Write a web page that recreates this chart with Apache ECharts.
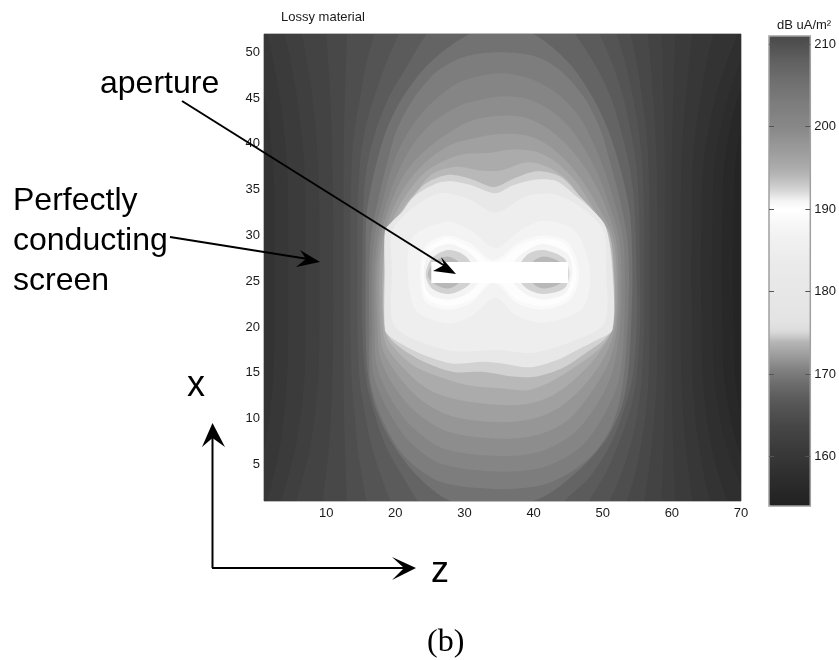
<!DOCTYPE html>
<html>
<head>
<meta charset="utf-8">
<style>html,body{margin:0;padding:0;background:#fff}#c{width:839px;height:660px;filter:blur(0.7px)}</style>
<script src="https://cdn.jsdelivr.net/npm/echarts@6/dist/echarts.min.js"></script>
</head>
<body>
<div id="c"></div>
<script>
// Colour bar: grey for every dB from 154 to 211
const colorbarMin = 154, colorbarMax = 211;
const colorbarGreys = ['#202020','#252525','#282828','#2c2c2c','#2f2f2f','#333333','#373737','#3b3b3b','#3f3f3f','#434343','#484848','#4e4e4e','#545454','#5b5b5b','#646464','#6e6e6e','#7a7a7a','#888888','#989898','#a8a8a8','#b8b8b8','#d8d8d8','#e2e2e2','#e4e4e4','#e5e5e5','#e6e6e6','#e7e7e7','#e8e8e8','#e9e9e9','#eaeaea','#ececec','#eeeeee','#f0f0f0','#f3f3f3','#f6f6f6','#fbfbfb','#ffffff','#f4f4f4','#dcdcdc','#c8c8c8','#b8b8b8','#acacac','#a4a4a4','#9c9c9c','#969696','#8e8e8e','#888888','#848484','#808080','#7c7c7c','#767676','#727272','#6c6c6c','#666666','#606060','#585858','#505050','#4a4a4a'];
const colorbarTicks = [160,170,180,190,200,210];
const zTicks = [10,20,30,40,50,60,70];
const xTicks = [5,10,15,20,25,30,35,40,45,50];

// Filled contours of the field, [z, x] outlines (lowest level first)
const c155 = [[-5,-5],[35,-5],[80,-5],[80,26],[80,60],[35,60],[-5,60],[-5,26]];
const c156 = [[-5,56],[-5,26],[-5,-3],[78,-3],[74,1],[70.9,7],[69.2,14],[68.9,20],[68.8,26],[68.9,32],[69.2,38],[70.9,45],[74,52],[78,56]];
const c157 = [[-5,56],[-5,26],[-5,-3],[76,-3],[73,1],[69.5,7],[67.6,14],[67.3,20],[67.2,26],[67.3,32],[67.6,38],[69.5,45],[73,52],[76,56]];
const c158 = [[-5,56],[-5,26],[-5,-3],[74,-3],[71,1],[67.9,7],[66.2,14],[65.9,20],[65.8,26],[65.9,32],[66.2,38],[68.1,45],[71.5,52],[74,56]];
const c159 = [[-5,56],[-5,26],[-5,-3],[70.5,-3],[68,1],[65.7,7],[64.5,14],[64.3,20],[64.2,26],[64.3,32],[64.6,38],[66.3,45],[69.5,52],[72,56]];
const c160 = [[-3,56],[-1,52],[1.1,45],[2.3,38],[2.5,32],[2.5,26],[2.5,20],[2.3,14],[1.1,7],[-1,1],[-3,-3],[67,-3],[65.5,1],[63.9,7],[63,14],[62.9,20],[62.8,26],[62.9,32],[63,38],[64.1,45],[66,52],[68,56]];
const c161 = [[0,56],[1.5,52],[3.3,45],[4.3,38],[4.5,32],[4.5,26],[4.5,20],[4.3,14],[3.3,7],[1.5,1],[0,-3],[64,-3],[63,1],[62,7],[61.4,14],[61.3,20],[61.3,26],[61.3,32],[61.4,38],[62,45],[63,52],[64,56]];
const c162 = [[2.5,56],[4,52],[5.8,45],[6.8,38],[7,32],[7,26],[7,20],[6.8,14],[5.6,7],[3.5,1],[2,-3],[60.7,-3],[60.5,1],[60.2,7],[60,14],[60,20],[60,26],[60,32],[60,38],[60.2,45],[60.5,52],[60.7,56]];
const c163 = [[5.5,56],[6.5,52],[8,45],[8.8,38],[9,32],[9,26],[9,20],[8.8,14],[7.7,7],[5.7,1],[4.5,-3],[58.3,-3],[58.5,1],[58.8,7],[59,14],[59,20],[59,26],[59,32],[59,38],[58.8,45],[58.5,52],[58.3,56]];
const c164 = [[9.5,56],[10,52],[10.6,45],[10.9,38],[11,32],[11,26],[11,20],[10.9,14],[10.4,7],[9.5,1],[9,-3],[55,-3],[56,1],[57.1,7],[57.8,14],[57.9,20],[57.9,26],[57.9,32],[57.8,38],[57.3,45],[56.5,52],[55.5,56]];
const c165 = [[13.2,56],[13,52],[12.7,45],[12.5,38],[12.5,32],[12.5,26],[12.5,20],[12.5,14],[12.7,7],[13,1],[13.2,-3],[51.5,-3],[53.5,1],[54.7,4],[55.5,7],[56.2,10.5],[56.6,14],[56.8,20],[56.8,26],[56.8,32],[56.6,38],[56.3,41.5],[55.7,45],[55,48.5],[54,52],[52.5,56]];
const c166 = [[19,56],[17,52],[15.7,48.5],[14.9,45],[14.1,41.5],[13.7,38],[13.5,32],[13.5,26],[13.5,20],[13.7,14],[14.1,10.5],[14.5,7],[15.1,4],[15.9,1],[18,-3],[48.5,-3],[51,1],[52.7,4],[54,7],[55,10.5],[55.6,14],[56,20],[56,26],[56,32],[55.7,38],[55.2,41.5],[54.4,45],[53.4,48.5],[52,52],[50,56]];
const c167 = [[23,56],[20.5,52],[18.5,48.5],[16.9,45],[15.6,41.5],[14.9,38],[14.5,32],[14.5,26],[14.5,20],[14.8,14.5],[15.5,11],[16.4,7.5],[17.8,4],[19.3,1],[22,-3],[45,-3],[48,1],[50.4,4],[52.4,7.5],[54,11],[54.9,14.5],[55.4,20],[55.4,26],[55.2,34],[54.8,38],[54,41.5],[53,45],[51.5,48.5],[49.5,52],[46.5,56]];
const c168 = [[28.5,56],[24.5,52],[21.7,48.5],[19,45],[17.2,41.5],[16,38],[15.4,34],[15.2,26],[15.2,20],[15.7,14.5],[16.8,11],[18.6,7],[21.2,3.5],[23.2,1],[27,-3],[41,-3],[44.5,1],[48,3.5],[51,7],[53.1,11],[54.3,14.5],[54.9,20],[54.9,26],[54.6,33],[54,37],[52.8,41],[51.2,45],[49,48.5],[46,52],[42,56]];
const c169 = [[15.7,26],[15.8,32],[16.4,35],[17.3,38],[18.7,41.5],[21,45],[24.5,48.5],[28.5,51],[32,52.4],[35.5,52.7],[39,52.3],[42,51],[45.5,48.5],[48.6,45],[50.8,41.5],[52.3,38],[53.3,35],[54,32],[54.3,26],[54.1,20],[53.6,14.5],[52.6,11],[50.3,7.5],[46,4],[41,1.3],[35.2,0.5],[28,1],[23.5,3.5],[19.8,7],[17.2,11],[16,15],[15.7,20]];
const c170 = [[16.2,26],[16.5,30],[17.6,34.2],[18.8,37.9],[20.2,41.5],[22.6,44.9],[26,47.9],[29.9,49.5],[35.2,50],[40.5,49.5],[43.9,48],[47.3,45.1],[49.7,41.5],[51.1,37.9],[52.4,34.2],[53.5,30],[53.8,26],[53.6,20],[52.8,13.3],[51.1,8.9],[47.8,5.5],[42,2.9],[35.2,2.3],[26.5,3.1],[21.4,5.8],[18.3,9.6],[16.4,14],[16.2,20]];
const c171 = [[16.6,26],[17,30],[18.3,34.2],[19.7,37.9],[21.7,41.1],[24.6,44],[28.9,46.6],[32.8,47.5],[35.7,47.7],[39.5,47.1],[43.4,45.5],[46.6,43],[48.7,40],[50.4,36.8],[51.6,33.9],[52.9,30],[53.2,26],[53.1,20],[52.4,14.4],[50.2,10.4],[46.8,6.9],[41.5,4.7],[35.2,4.2],[26.5,5.1],[21.9,7.6],[18.8,11.1],[16.8,14.9],[16.6,20]];
const c172 = [[17,26],[17.5,30],[19,34.2],[20.5,37.1],[22.6,40],[25.5,42.4],[29.4,44.2],[32.8,44.9],[35.7,45.2],[39.1,44.9],[42.4,43.7],[45.3,41.7],[47.8,38.9],[49.7,36],[50.9,33.5],[52.3,30],[52.7,26],[52.5,20],[51.4,15.1],[49.2,11.6],[45.8,8.4],[41,6.4],[35.2,5.9],[27,6.7],[22.4,9.1],[19.3,12.2],[17.3,15.8],[17,20]];
const c173 = [[17.3,26],[17.9,30],[19.5,33.9],[21.4,36.8],[24.1,39.1],[27.5,41.1],[31.3,42.6],[35.7,43.1],[39.1,42.8],[42.4,41.5],[45.3,39.5],[47.8,37],[50,33.9],[51.8,30],[52.3,26],[52.1,20],[50.9,16.2],[48.2,12.7],[44.9,9.8],[40.5,8.2],[35.2,7.8],[27.5,8.6],[23.1,10.6],[20,13.3],[17.8,16.6],[17.4,20]];
const c174 = [[17.7,26],[18.3,30],[20,33.5],[22.2,36.2],[25,38.4],[28,39.9],[31.8,40.7],[35.7,41.1],[39.1,40.9],[42,39.9],[44.9,38],[47.3,35.7],[49.2,33.3],[51.4,30],[52,26],[51.8,20],[50.2,16.7],[47.3,13.6],[43.9,11.3],[40,10],[35.2,9.6],[28.4,10.2],[24.1,11.8],[20.7,14.4],[18.3,17.3],[17.8,20]];
const c175 = [[18.1,26],[18.7,30],[20.5,33.1],[22.6,35.5],[25,37.3],[29.4,38.8],[33.3,39],[37.1,39.4],[40.5,39.1],[43.4,37.9],[46.3,35.7],[48.7,32.9],[51,30],[51.7,26],[51.5,20],[49.2,16.9],[45.8,14.2],[42.4,12.4],[39.1,11.6],[35.2,11.5],[29.4,12],[25,13.1],[21.7,15.1],[18.8,17.8],[18.2,20]];
const c176 = [[18.3,26],[18.8,30],[21,32.9],[23.1,34.9],[25.5,36.8],[28.9,37.5],[32.3,37.1],[35.2,37.1],[39.1,38],[42,37.5],[44.9,36],[47.8,33.1],[50.8,30.5],[51.6,26],[51.5,20],[49.7,17.8],[46.3,15.8],[42.4,14],[39.1,13.1],[35.2,13.3],[30.8,13.6],[27,14.4],[22.6,15.8],[19.3,18.2],[18.4,20]];
const c177 = [[18.4,26],[18.8,30.5],[21.2,32.7],[24.1,35.5],[27.5,36.6],[30.8,36.2],[34.2,35.3],[37.1,36.2],[40.5,37],[43.9,36.4],[46.8,34.2],[48.5,32.8],[50.6,30.5],[51.5,26],[51.4,20],[50.2,18.6],[47.8,17.3],[44.4,15.6],[40.5,14.6],[37.1,14.6],[32.8,15.1],[28.4,15.1],[23.6,16.4],[19.7,18.4],[18.5,20]];
const c178 = [[18.5,26],[18.5,30.5],[19.5,31.5],[21,32.6],[22.6,34.2],[26,35.7],[28.4,35.9],[30.9,35.5],[34.5,34.6],[37.1,35.5],[40.5,36.1],[43.4,35.9],[46.3,34.2],[48.2,33],[50.4,31],[51.4,26],[51.4,19.7],[49.2,18.6],[46.3,17.5],[43.4,16.4],[39.5,15.6],[35.7,16],[32.8,16.2],[28.4,16],[25,16.7],[22.2,17.6],[19.3,18.9],[18.5,19.7]];
const c181 = [[19.5,26],[19.6,30.5],[22.5,33],[26.5,34.6],[30.5,34],[34.5,32.5],[39,34.3],[43,34.5],[47,33],[50.1,30.5],[50.5,26],[50.3,20.5],[46.5,18.7],[40,17.2],[35,17.5],[28,17.4],[22,18.9],[19.6,20.5]];
const c185 = [[21.8,25.8],[22.5,29.8],[27.5,31.5],[31,30.5],[34.5,28.6],[38,30.5],[41.5,31.6],[46,30.5],[48.2,26],[47,22],[41.5,20.5],[37.6,21.2],[34.5,23.2],[31,21.2],[27.5,20.4],[23,21.8]];
const c188 = [[23.6,25.7],[24.3,28.8],[27.5,30],[30.9,29.1],[34.2,27.3],[38.1,29.3],[41.5,30],[44.9,29.3],[46.6,25.9],[45.3,23],[41.5,21.9],[37.6,22.6],[34.2,24.8],[30.9,22.6],[27.5,21.9],[24.3,22.8]];
const c190 = [[23.9,25.8],[24.6,28.5],[27.5,29.7],[31,28.6],[34.3,26.9],[38,28.9],[41.5,29.7],[44.6,29],[46.2,25.9],[45,23.3],[41.5,22.3],[37.6,23],[34.3,25.2],[31,23],[27.5,22.3],[24.5,23.2]];
const c192a = [[24.1,25.9],[24.8,28],[27.5,29.1],[30.1,28.4],[32,27],[32,24.9],[30.1,23.5],[27.5,23],[24.8,23.7]];
const c192b = [[45.6,25.9],[44.9,28],[41.5,29.1],[39.1,28.4],[37.1,27],[37.1,24.9],[39.1,23.5],[41.5,23],[44.6,23.7]];
const c194a = [[24.4,25.7],[25.3,27.5],[27.5,28.4],[29.4,28.1],[30.9,27],[30.9,24.9],[29.4,24],[27.5,23.6],[25.3,24.2]];
const c194b = [[45.2,25.8],[44.4,27.5],[41.5,28.4],[39.5,28.1],[38.2,27],[38.2,24.9],[39.5,24],[41.5,23.6],[44.4,24.2]];
const c196a = [[24.7,25.7],[25.5,27],[27.5,27.7],[29.2,27],[29.2,24.9],[27.5,24.2],[25.5,24.8]];
const c196b = [[44.9,25.8],[44,27],[41.5,27.7],[39.8,27],[39.8,24.9],[41.5,24.2],[44,24.8]];

const contourLevels = [155,156,157,158,159,160,161,162,163,164,165,166,167,168,169.3,170.2,170.8,171.3,171.9,172.5,173.2,174,174.8,181,185,187,188.5,189.5,191,191,192.5,192.5,194,194];
const contourPaths = [c155,c156,c157,c158,c159,c160,c161,c162,c163,c164,c165,c166,c167,c168,c169,c170,c171,c172,c173,c174,c175,c176,c177,c178,c181,c185,c188,c190,c192a,c192b,c194a,c194b,c196a,c196b];
const apertureZ = [25.2, 45];
const apertureX = [24.8, 27.1];

const font = '"Liberation Sans", Arial, sans-serif';
const ink = '#1a1a1a';

function arrow(x1, y1, x2, y2, head) {
  return [
    {type:'line', z:50, shape:{x1, y1, x2, y2}, style:{stroke:'#000', lineWidth:2}},
    {type:'polygon', z:51, shape:{points:head}, style:{fill:'#000'}}
  ];
}
function label(text, x, baseline, size, family) {
  return {type:'text', z:52, x, y:baseline - Math.round(size*0.82), style:{text, fill:'#000', font:size+'px '+(family||font), verticalAlign:'top'}};
}

const chart = echarts.init(document.getElementById('c'), null, {renderer:'canvas'});
chart.setOption({
  animation:false,
  backgroundColor:'#fff',
  textStyle:{fontFamily:font},
  title:{text:'Lossy material', left:281, top:11, padding:0, textStyle:{fontSize:13, fontWeight:'normal', color:ink, fontFamily:font}},
  grid:[
    {left:264, top:34, width:477, height:467, show:true, borderColor:'#777', borderWidth:1, backgroundColor:'#262626'},
    {left:769, top:36, width:42, height:470, show:true, borderColor:'#a0a0a0', borderWidth:1.5, backgroundColor:'transparent', z:10}
  ],
  xAxis:[
    {gridIndex:0, type:'value', min:1, max:70, splitLine:{show:false}, axisTick:{show:false}, axisLine:{show:false},
     axisLabel:{customValues:zTicks, margin:6, fontSize:13, color:ink, fontFamily:font}},
    {gridIndex:1, type:'value', min:0, max:1, show:false, splitLine:{show:false}}
  ],
  yAxis:[
    {gridIndex:0, type:'value', min:1, max:52, splitLine:{show:false}, axisTick:{show:false}, axisLine:{show:false},
     axisLabel:{customValues:xTicks, margin:4, fontSize:13, color:ink, fontFamily:font}},
    {gridIndex:1, type:'value', position:'right', min:colorbarMin, max:colorbarMax, splitLine:{show:false}, axisLine:{show:false, onZero:false},
     axisTick:{show:true, inside:true, length:5, lineStyle:{color:'#555'}, customValues:colorbarTicks},
     axisLabel:{customValues:colorbarTicks, margin:4, fontSize:13, color:ink, fontFamily:font}, z:12},
    {gridIndex:1, type:'value', position:'left', min:colorbarMin, max:colorbarMax, splitLine:{show:false}, axisLine:{show:false, onZero:false},
     axisTick:{show:true, inside:true, length:5, lineStyle:{color:'#555'}, customValues:colorbarTicks},
     axisLabel:{show:false, customValues:colorbarTicks}, z:12}
  ],
  visualMap:{
    type:'continuous', seriesIndex:0, dimension:2, min:colorbarMin, max:colorbarMax, calculable:false, realtime:false, z:1,
    left:769, top:36, itemWidth:42, itemHeight:470, padding:0, text:null, showLabel:false,
    inRange:{color:colorbarGreys}, hoverLink:false
  },
  series:[
    {type:'custom', xAxisIndex:0, yAxisIndex:0, clip:true, encode:{x:0, y:1},
     data:contourLevels.map(v => [35, 26, v]),
     renderItem:(params, api) => ({
       type:'polygon',
       shape:{points:contourPaths[params.dataIndex].map(p => api.coord(p)), smooth:0.3},
       style:{fill:api.visual('color')}
     })},
    {type:'custom', xAxisIndex:0, yAxisIndex:0, clip:true, z:3, encode:{x:0, y:1},
     data:[[apertureZ[0], apertureX[0], apertureZ[1], apertureX[1]]],
     renderItem:(params, api) => {
       const a = api.coord([api.value(0), api.value(1)]), b = api.coord([api.value(2), api.value(3)]);
       return {type:'rect', shape:{x:a[0], y:b[1], width:b[0]-a[0], height:a[1]-b[1]}, style:{fill:'#fff'}};
     }}
  ],
  graphic:[
    label('aperture', 100, 94, 32),
    label('Perfectly', 13, 211, 32),
    label('conducting', 13, 251, 32),
    label('screen', 13, 291, 32),
    label('x', 187, 398, 36),
    label('z', 431, 584, 36),
    label('(b)', 427, 653, 32, '"Liberation Serif", "Times New Roman", serif'),
    {type:'text', z:52, x:777, y:19, style:{text:'dB uA/m\u00b2', fill:ink, font:'13px '+font, verticalAlign:'top'}},
    ...arrow(182,101,445,266,[[456,274],[441,257],[444,265],[433,271]]),
    ...arrow(170,237,308,259,[[320,262],[300,250],[306,259],[296,267]]),
    ...arrow(212.5,568,212.5,437,[[212.5,423],[202,447],[212.5,438],[225,447]]),
    ...arrow(212,568,405,568,[[416,568],[392,557],[404,568],[392,580]])
  ]
});
</script>
</body>
</html>
